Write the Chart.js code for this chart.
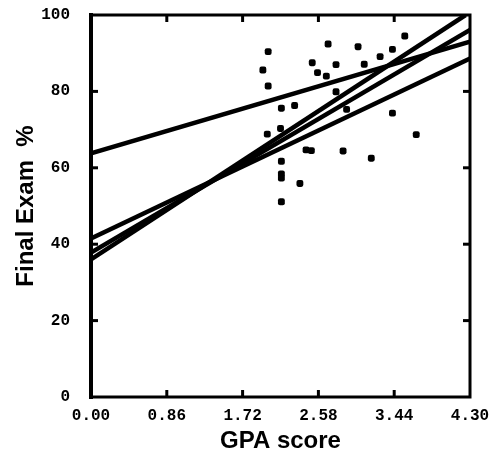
<!DOCTYPE html>
<html>
<head>
<meta charset="utf-8">
<script src="https://cdn.jsdelivr.net/npm/chart.js@4/dist/chart.umd.min.js"></script>
<style>
html,body{margin:0;padding:0;background:#fff;}
#c{display:block;}
</style>
</head>
<body>
<canvas id="c" width="491" height="456"></canvas>
<script>
// ---- data ----
const gpaScores = [3.56, 2.01, 2.69, 3.03, 3.42, 3.28, 2.51, 2.78, 3.10, 1.95,
                   2.57, 2.67, 2.01, 2.78, 2.16, 2.31, 2.00, 2.15, 2.90, 3.42,
                   3.69, 2.44, 2.50, 2.86, 3.18, 2.16, 2.16, 2.16, 2.37, 2.16];
const examScores = [94.5, 90.4, 92.4, 91.7, 91.0, 89.1, 87.5, 87.0, 87.1, 85.6,
                    84.9, 84.0, 81.4, 79.9, 75.6, 76.3, 68.8, 70.3, 75.3, 74.3,
                    68.7, 64.7, 64.5, 64.4, 62.5, 61.7, 58.4, 57.3, 55.9, 51.1];

// fitted lines: [x, y] endpoints
const lineA = [[0, 63.8], [4.30, 93.0]];
const lineB = [[0, 41.5], [4.30, 88.6]];
const lineC = [[0, 36.0], [4.25, 100.0]];
const lineD = [[0, 37.8], [4.30, 96.1]];

const xTicks = [0, 0.86, 1.72, 2.58, 3.44, 4.30];
const xTickLabels = ['0.00', '0.86', '1.72', '2.58', '3.44', '4.30'];
const yTicks = [0, 20, 40, 60, 80, 100];
const yTickLabels = ['0', '20', '40', '60', '80', '100'];

const xTitle = 'GPA score';
const yTitle = 'Final Exam  %';

// ---- build ----
const points = gpaScores.map((x, i) => ({x: x, y: examScores[i]}));
const toXY = arr => arr.map(p => ({x: p[0], y: p[1]}));

function lineDs(arr) {
  return {
    type: 'scatter',
    data: toXY(arr),
    showLine: true,
    borderColor: '#000',
    borderWidth: 4.5,
    pointRadius: 0,
    fill: false
  };
}

const tickFont = {family: "'Liberation Mono', 'DejaVu Sans Mono', monospace", size: 16, weight: 'bold'};
const titleFont = {family: "'Liberation Sans', Arial, sans-serif", size: 24, weight: 'bold'};

const framePlugin = {
  id: 'frame',
  afterDatasetsDraw(chart) {
    const ctx = chart.ctx;
    const a = chart.chartArea;
    const xs = chart.scales.x, ys = chart.scales.y;
    ctx.save();
    ctx.strokeStyle = '#000';
    ctx.lineCap = 'square';
    ctx.lineWidth = 3;
    ctx.strokeRect(a.left, a.top, a.right - a.left, a.bottom - a.top);
    ctx.lineWidth = 4;
    ctx.beginPath(); ctx.moveTo(a.left, a.top); ctx.lineTo(a.left, a.bottom); ctx.stroke();
    ctx.lineWidth = 3;
    ctx.lineCap = 'butt';
    const len = 7;
    yTicks.slice(1, -1).forEach(v => {
      const py = ys.getPixelForValue(v);
      ctx.beginPath(); ctx.moveTo(a.left, py); ctx.lineTo(a.left + len, py); ctx.stroke();
      ctx.beginPath(); ctx.moveTo(a.right, py); ctx.lineTo(a.right - len, py); ctx.stroke();
    });
    xTicks.slice(1, -1).forEach(v => {
      const px = xs.getPixelForValue(v);
      ctx.beginPath(); ctx.moveTo(px, a.bottom); ctx.lineTo(px, a.bottom - len); ctx.stroke();
      ctx.beginPath(); ctx.moveTo(px, a.top); ctx.lineTo(px, a.top + len); ctx.stroke();
    });
    ctx.restore();
  }
};

new Chart(document.getElementById('c'), {
  type: 'scatter',
  data: {
    datasets: [
      {
        data: points,
        pointStyle: 'rectRounded',
        pointRadius: 4,
        backgroundColor: '#000',
        borderColor: '#000',
        borderWidth: 0
      },
      lineDs(lineA), lineDs(lineB), lineDs(lineC), lineDs(lineD)
    ]
  },
  options: {
    responsive: false,
    devicePixelRatio: 1,
    animation: false,
    layout: {padding: {left: 10, top: 15, right: 21, bottom: 0}},
    plugins: {legend: {display: false}, tooltip: {enabled: false}},
    scales: {
      x: {
        type: 'linear',
        min: 0, max: 4.30,
        afterBuildTicks(s) { s.ticks = xTicks.map(v => ({value: v})); },
        afterFit(s) { s.height = 59; s.paddingLeft = 0; s.paddingRight = 0; },
        grid: {display: false, drawTicks: false},
        border: {display: false},
        ticks: {
          color: '#000', font: tickFont, padding: 9, maxRotation: 0, autoSkip: false,
          callback: (v, i) => xTickLabels[i]
        },
        title: {display: true, text: xTitle, color: '#000', font: titleFont, padding: {top: 0, bottom: 0}}
      },
      y: {
        type: 'linear',
        min: 0, max: 100,
        afterBuildTicks(s) { s.ticks = yTicks.map(v => ({value: v})); },
        afterFit(s) { s.width = 81; s.paddingTop = 0; s.paddingBottom = 0; },
        grid: {display: false, drawTicks: false},
        border: {display: false},
        ticks: {
          color: '#000', font: tickFont, padding: 21, autoSkip: false,
          callback: (v, i) => yTickLabels[i]
        },
        title: {display: true, text: yTitle, color: '#000', font: titleFont, padding: {top: 2, bottom: 0}}
      }
    }
  },
  plugins: [framePlugin]
});
</script>
</body>
</html>
